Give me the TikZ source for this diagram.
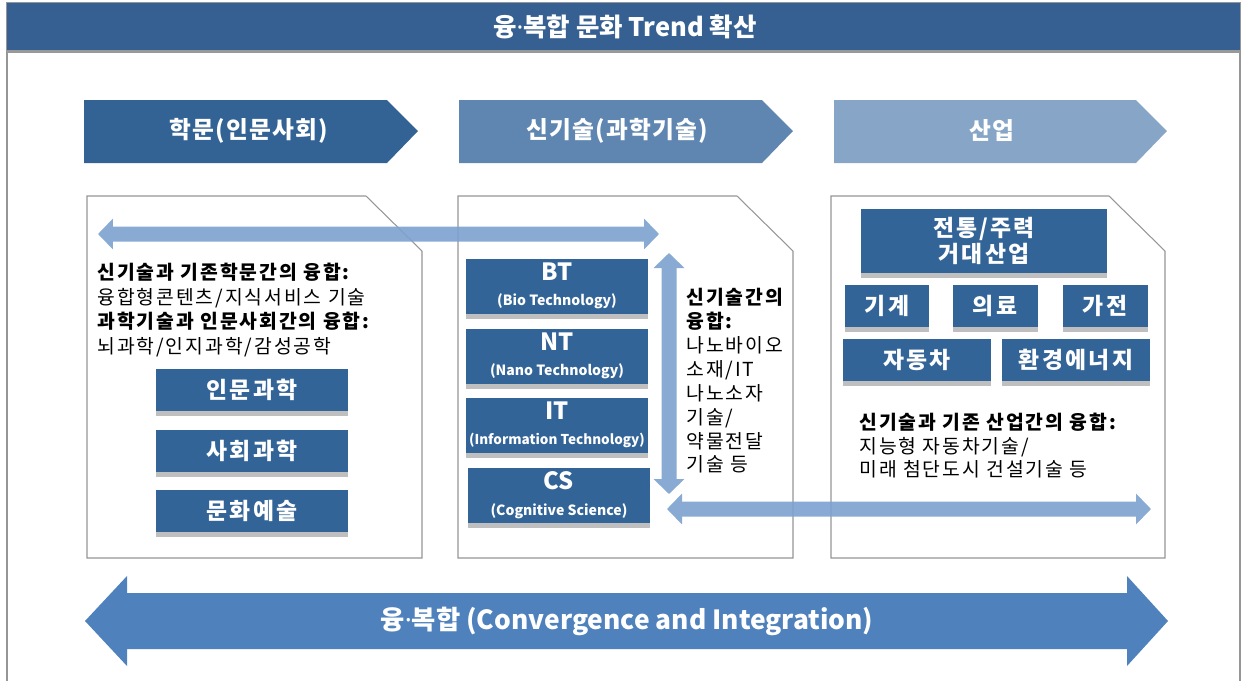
\documentclass[tikz,border=0pt]{standalone}
\usepackage{fontspec}
\setmainfont{Noto Sans CJK KR}
\newfontfamily\krwide{Noto Sans CJK KR}[LetterSpace=10.0]
\newfontfamily\krhead{Noto Sans CJK KR}[LetterSpace=5.0]
\newfontfamily\dotfont{Noto Sans}
\newcommand{\md}{{\dotfont\bfseries ·}}
\usepackage{tikz}
\usetikzlibrary{arrows.meta,shadows}
\definecolor{titlebar}{RGB}{54,96,146}
\definecolor{hdA}{RGB}{50,99,148}
\definecolor{hdB}{RGB}{94,134,176}
\definecolor{hdC}{RGB}{135,166,199}
\definecolor{boxblue}{RGB}{51,100,152}
\definecolor{lightarr}{RGB}{124,161,207}
\definecolor{bigarr}{RGB}{79,129,189}
\definecolor{framegray}{RGB}{150,150,150}

\begin{document}
\begin{tikzpicture}[x=0.02cm,y=-0.02cm,
    box/.style={fill=boxblue, text=white, inner sep=0pt, align=center,
      font=\krwide\fontsize{13}{14.5}\selectfont\bfseries,
      drop shadow={shadow xshift=0pt, shadow yshift=-3pt, fill=black!55, opacity=0.45}},
    tbox/.style={box, font=\fontsize{13}{14.5}\selectfont\bfseries},
    hd/.style={text=white, font=\krhead\fontsize{13.5}{15}\selectfont\bfseries},
    txt/.style={anchor=north west, inner sep=0pt, align=left},
    panel/.style={draw=framegray, line width=0.6pt, fill=white},
    flow/.style={line width=0.3cm, lightarr, {Triangle[width=0.6cm,length=0.3cm]}-{Triangle[width=0.6cm,length=0.3cm]}}]
  \useasboundingbox (0,0) rectangle (1245,681);

  % frame and title
  \draw[framegray, line width=0.6pt] (7,681) -- (7,3) -- (1240,3) -- (1240,681);
  \fill[titlebar] (7,3) rectangle (1240,50);
  \fill[black!40] (7,50) rectangle (1240,53);
  \node[text=white, font=\fontsize{14.5}{16}\selectfont\bfseries] (title) at (625,27) {융\md 복합 문화 Trend 확산};

  % headers
  \fill[hdA] (84,100) -- (387,100) -- (418,131) -- (387,163) -- (84,163) -- cycle;
  \fill[hdB] (459,100) -- (762,100) -- (793,131) -- (762,163) -- (459,163) -- cycle;
  \fill[hdC] (834,100) -- (1136,100) -- (1167,131) -- (1136,163) -- (834,163) -- cycle;
  \node[hd] (hA) at (249,131) {학문(인문사회)};
  \node[hd] (hB) at (617,131) {신기술(과학기술)};
  \node[hd] (hC) at (992,131) {산업};

  % panels
  \draw[panel] (87,196) -- (366,196) -- (422,251) -- (422,558) -- (87,558) -- cycle;
  \draw[panel] (458,196) -- (737,196) -- (793,251) -- (793,558) -- (458,558) -- cycle;
  \draw[panel] (831,196) -- (1109,196) -- (1165,251) -- (1165,558) -- (831,558) -- cycle;

  % left panel
  \node[txt, font=\krwide\fontsize{11}{13.9}\selectfont] (tA) at (97,263)
    {{\bfseries 신기술과 기존학문간의 융합:}\\융합형콘텐츠/지식서비스 기술\\
     {\bfseries 과학기술과 인문사회간의 융합:}\\뇌과학/인지과학/감성공학};
  \node[box, minimum width=3.86cm, minimum height=0.84cm] (hum) at (252,390) {인문과학};
  \node[box, minimum width=3.86cm, minimum height=0.84cm] (soc) at (252,451) {사회과학};
  \node[box, minimum width=3.86cm, minimum height=0.84cm] (art) at (252,511) {문화예술};

  % middle panel
  \node[tbox, minimum width=3.64cm, minimum height=1.1cm] (bt) at (557,286)
    {{\fontsize{13.5}{13}\selectfont BT}\\{\fontsize{8}{10}\selectfont (Bio Technology)}};
  \node[tbox, minimum width=3.64cm, minimum height=1.1cm] (nt) at (557,356)
    {{\fontsize{13.5}{13}\selectfont NT}\\{\fontsize{8}{10}\selectfont (Nano Technology)}};
  \node[tbox, minimum width=3.64cm, minimum height=1.1cm] (it) at (557,425)
    {{\fontsize{13.5}{13}\selectfont IT}\\{\fontsize{7.7}{10}\selectfont (Information Technology)}};
  \node[tbox, minimum width=3.64cm, minimum height=1.1cm] (cs) at (559,495)
    {{\fontsize{13.5}{13}\selectfont CS}\\{\fontsize{8}{10}\selectfont (Cognitive Science)}};
  \node[txt, font=\krwide\fontsize{11}{13.6}\selectfont] (tB) at (686,288)
    {{\bfseries 신기술간의}\\{\bfseries 융합:}\\나노바이오\\소재/IT\\나노소자\\기술/\\약물전달\\기술 등};

  % right panel
  \node[box, minimum width=4.94cm, minimum height=1.28cm] (big) at (984,241) {전통/주력\\거대산업};
  \node[box, minimum width=1.7cm, minimum height=0.84cm] (mach) at (887,306) {기계};
  \node[box, minimum width=1.7cm, minimum height=0.84cm] (med) at (995,306) {의료};
  \node[box, minimum width=1.7cm, minimum height=0.84cm] (home) at (1105,306) {가전};
  \node[box, minimum width=2.96cm, minimum height=0.84cm] (car) at (917,360) {자동차};
  \node[box, minimum width=2.96cm, minimum height=0.84cm] (env) at (1076,360) {환경에너지};
  \node[txt, font=\krwide\fontsize{11}{13.3}\selectfont] (tC) at (859,413)
    {{\bfseries 신기술과 기존 산업간의 융합:}\\지능형 자동차기술/\\미래 첨단도시 건설기술 등};

  % light arrows
  \coordinate (topL) at (98,234);
  \coordinate (topR) at (659,234);
  \coordinate (vTop) at (669,253);
  \coordinate (vBot) at (669,494);
  \coordinate (botL) at (667,509);
  \coordinate (botR) at (1151,509);
  \begin{scope}[transparency group, opacity=0.9]
    \draw[flow] (topL) -- (topR);
    \draw[flow] (vTop) -- (vBot);
    \draw[flow] (botL) -- (botR);
  \end{scope}

  % big arrow
  \fill[bigarr] (85,621) -- (127,576) -- (127,593) -- (1127,593) -- (1127,576) -- (1168,621)
    -- (1127,666) -- (1127,649) -- (127,649) -- (127,666) -- cycle;
  \node[text=white, font=\fontsize{15}{17}\selectfont\bfseries] (conv) at (627,621)
    {융\md 복합 (Convergence and Integration)};
\end{tikzpicture}
\end{document}
